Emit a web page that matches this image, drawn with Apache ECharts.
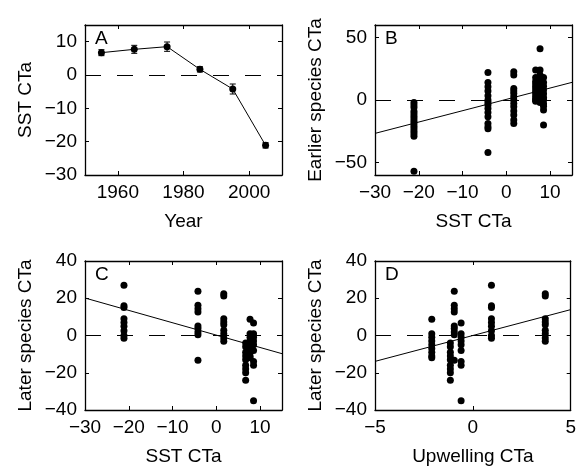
<!DOCTYPE html>
<html>
<head>
<meta charset="utf-8">
<script src="https://cdn.jsdelivr.net/npm/echarts@6/dist/echarts.min.js"></script>
<style>html,body{margin:0;padding:0;background:#fff}#c{width:579px;height:472px}</style>
</head>
<body>
<div id="c"></div>
<script>
// ---- data ----
var years = [1955, 1965, 1975, 1985, 1995, 2005];
var sstCTa = [6.7, 7.7, 8.5, 1.7, -4.2, -21.1];
var sstErr = [0.9, 1.2, 1.4, 0.8, 1.5, 0.8];
var upwellingCTa = [-1.15, -2.1, -0.6, 3.7, -0.95, 0.95];

// Earlier species CTa, one array per period (same order as years)
var earlier1955 = [24, 18, 15, 13, 11, 9, 7, 5, 3, 1, 0, -1];
var earlier1965 = [41, 24, 20, 16, 12, 10, 8, 6, 4, 2, 0, -2];
var earlier1975 = [18, 14, 11, 8, 5, 2, 0, -3, -5, -8, -20];
var earlier1985 = [22.7, 20, 9.3, 7.2, 5.3, 2.7, 0, -2.7, -5.3, -8.8, -12, -16, -18.7];
var earlier1995 = [22, 14, 10.7, 7.2, 3.5, 0, -2, -4, -6.7, -10, -13.3, -18.7, -21.3, -23, -42];
var earlier2005 = [-2, -4, -6, -9, -11, -13, -15, -17, -19, -21, -23, -25, -27, -29, -57];

// Later species CTa, one array per period
var later1955 = [-4, -6, -9, -11, -13, -16, -18, -20, -24];
var later1965 = [8.7, 1, -1, -3, -5, -7, -9, -11, -12];
var later1975 = [6.7, 1, -1, -3, -5, -8, -14, -16, -35];
var later1985 = [22.4, 21.2, 9, 7.2, 5.8, 2.8, 1, -1.3, -3.1];
var later1995 = [23.7, 16.2, 14.4, 12.6, 5.1, 3.7, 1.9, 0.4, -13.3];
var later2005 = [27, 16, 15, 9, 7, 5, 2.5, 0, -1.5];

// Regression fits: [intercept, slope]
var fitB = [0.5, 0.907];
var fitC = [0.2, -0.664];
var fitD = [0.0, 2.78];

// Tick labels
var ticksYearX = [1960, 1980, 2000];
var ticksSstY = [-30, -20, -10, 0, 10];
var ticksSstX = [-30, -20, -10, 0, 10];
var ticksEarlierY = [-50, 0, 50];
var ticksLaterY = [-40, -20, 0, 20, 40];
var ticksUpwX = [-5, 0, 5];

// ---- build ----
var earlier = [earlier1955, earlier1965, earlier1975, earlier1985, earlier1995, earlier2005];
var later = [later1955, later1965, later1975, later1985, later1995, later2005];

function pairs(xs, groups) {
  var out = [];
  groups.forEach(function (g, i) { g.forEach(function (v) { out.push([xs[i], v]); }); });
  return out;
}

var FONT = 'Liberation Sans';
var FS = 19;
var BLACK = '#000';
var fmt = function (v) { return String(v).replace('-', '\u2212'); };

function axisPair(kind, gi, min, max, ticks, name, nameGap) {
  var isX = kind === 'x';
  var base = {
    gridIndex: gi, type: 'value', min: min, max: max,
    axisLine: { show: true, onZero: false, lineStyle: { color: BLACK, width: 1.3 } },
    axisTick: { show: true, inside: true, length: 4, customValues: ticks, lineStyle: { color: BLACK, width: 1 } },
    splitLine: { show: false }
  };
  var main = Object.assign({}, base, {
    position: isX ? 'bottom' : 'left',
    axisLabel: { show: true, customValues: ticks, formatter: fmt, color: BLACK, fontFamily: FONT, fontSize: FS, margin: 8 },
    name: name, nameLocation: 'middle', nameGap: nameGap,
    nameTextStyle: { color: BLACK, fontFamily: FONT, fontSize: FS }
  });
  var other = Object.assign({}, base, {
    position: isX ? 'top' : 'right',
    axisLabel: { show: false }
  });
  return [main, other];
}

var grids = [
  { left: 85, top: 25, width: 197, height: 150 },
  { left: 375, top: 25, width: 197, height: 150 },
  { left: 85, top: 261, width: 197, height: 149 },
  { left: 375, top: 261, width: 197, height: 149 }
];

var xAxes = [].concat(
  axisPair('x', 0, 1950, 2010, ticksYearX, 'Year', 37),
  axisPair('x', 1, -30, 15, ticksSstX, 'SST CTa', 37),
  axisPair('x', 2, -30, 15, ticksSstX, 'SST CTa', 37),
  axisPair('x', 3, -5, 5, ticksUpwX, 'Upwelling CTa', 37)
);
var yAxes = [].concat(
  axisPair('y', 0, -30, 15, ticksSstY, 'SST CTa', 50),
  axisPair('y', 1, -60, 60, ticksEarlierY, 'Earlier species CTa', 50),
  axisPair('y', 2, -40, 40, ticksLaterY, 'Later species CTa', 50),
  axisPair('y', 3, -40, 40, ticksLaterY, 'Later species CTa', 50)
);

var zeroLine = {
  silent: true, symbol: ['none', 'none'], label: { show: false },
  lineStyle: { color: BLACK, type: [16, 16], width: 1 },
  data: [{ yAxis: 0 }]
};

function fitLine(fit, xmin, xmax) {
  return [[xmin, fit[0] + fit[1] * xmin], [xmax, fit[0] + fit[1] * xmax]];
}

var series = [];
// Panel A
series.push({
  type: 'line', xAxisIndex: 0, yAxisIndex: 0,
  data: years.map(function (y, i) { return [y, sstCTa[i]]; }),
  symbol: 'circle', symbolSize: 7, itemStyle: { color: BLACK },
  lineStyle: { color: BLACK, width: 1 }, markLine: zeroLine, z: 3
});
series.push({
  type: 'custom', xAxisIndex: 0, yAxisIndex: 0,
  data: years.map(function (y, i) { return [y, sstCTa[i] - sstErr[i], sstCTa[i] + sstErr[i]]; }),
  renderItem: function (params, api) {
    var lo = api.coord([api.value(0), api.value(1)]);
    var hi = api.coord([api.value(0), api.value(2)]);
    var w = 3;
    var st = { stroke: BLACK, lineWidth: 1 };
    return { type: 'group', children: [
      { type: 'line', shape: { x1: lo[0], y1: lo[1], x2: hi[0], y2: hi[1] }, style: st },
      { type: 'line', shape: { x1: lo[0] - w, y1: lo[1], x2: lo[0] + w, y2: lo[1] }, style: st },
      { type: 'line', shape: { x1: hi[0] - w, y1: hi[1], x2: hi[0] + w, y2: hi[1] }, style: st }
    ] };
  }, z: 4
});
// Panel B
series.push({
  type: 'scatter', xAxisIndex: 2, yAxisIndex: 2, data: pairs(sstCTa, earlier),
  symbolSize: 7, itemStyle: { color: BLACK, opacity: 1 }, markLine: zeroLine
});
series.push({
  type: 'line', xAxisIndex: 2, yAxisIndex: 2, data: fitLine(fitB, -30, 15),
  symbol: 'none', lineStyle: { color: BLACK, width: 1 }
});
// Panel C
series.push({
  type: 'scatter', xAxisIndex: 4, yAxisIndex: 4, data: pairs(sstCTa, later),
  symbolSize: 7, itemStyle: { color: BLACK, opacity: 1 }, markLine: zeroLine
});
series.push({
  type: 'line', xAxisIndex: 4, yAxisIndex: 4, data: fitLine(fitC, -30, 15),
  symbol: 'none', lineStyle: { color: BLACK, width: 1 }
});
// Panel D
series.push({
  type: 'scatter', xAxisIndex: 6, yAxisIndex: 6, data: pairs(upwellingCTa, later),
  symbolSize: 7, itemStyle: { color: BLACK, opacity: 1 }, markLine: zeroLine
});
series.push({
  type: 'line', xAxisIndex: 6, yAxisIndex: 6, data: fitLine(fitD, -5, 5),
  symbol: 'none', lineStyle: { color: BLACK, width: 1 }
});

var letters = ['A', 'B', 'C', 'D'];
var titles = letters.map(function (t, i) {
  return { text: t, left: grids[i].left + 10, top: grids[i].top + 4, padding: 0,
    textStyle: { color: BLACK, fontFamily: FONT, fontSize: FS, fontWeight: 'normal' } };
});

var chart = echarts.init(document.getElementById('c'), null, { renderer: 'canvas' });
chart.setOption({
  animation: false,
  backgroundColor: '#fff',
  title: titles,
  grid: grids,
  xAxis: xAxes,
  yAxis: yAxes,
  series: series
});
</script>
</body>
</html>
